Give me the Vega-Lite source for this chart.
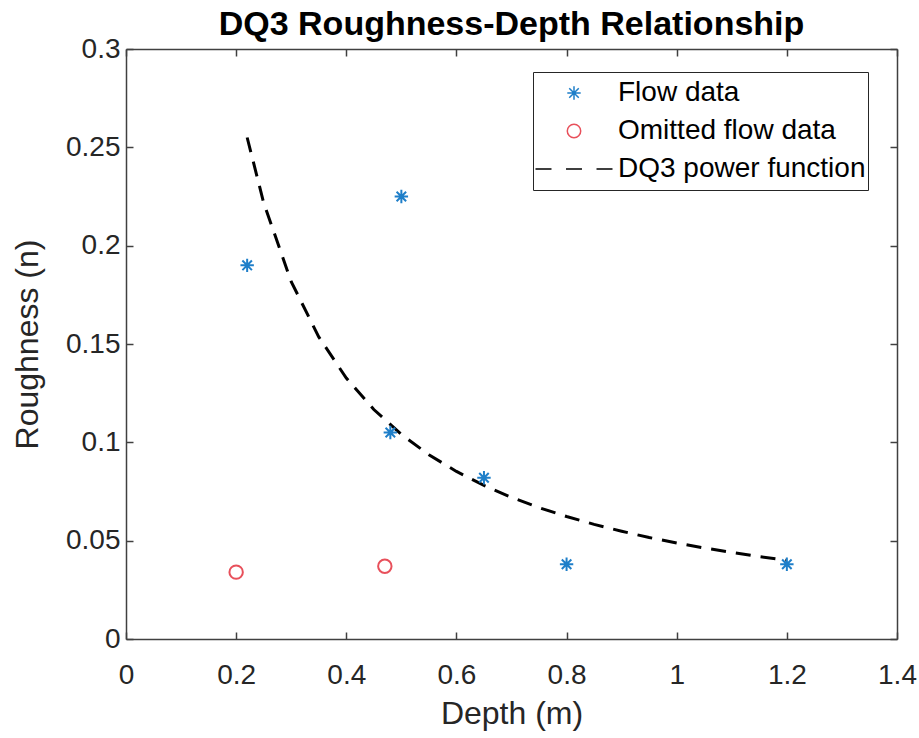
{
  "$schema": "https://vega.github.io/schema/vega-lite/v6.json",
  "autosize": "none",
  "width": 771,
  "height": 590,
  "padding": {"left": 126, "top": 49, "right": 22, "bottom": 99},
  "background": "white",
  "title": {
    "text": "DQ3 Roughness-Depth Relationship",
    "font": "Liberation Sans",
    "fontSize": 34,
    "fontWeight": "bold",
    "color": "#000000",
    "anchor": "middle",
    "offset": -7
  },
  "config": {
    "view": {"stroke": null},
    "axis": {
      "grid": false,
      "domainColor": "#404040",
      "domainWidth": 1.5,
      "tickColor": "#404040",
      "tickWidth": 1.5,
      "tickSize": -7,
      "labelFont": "Liberation Sans",
      "labelFontSize": 28,
      "labelColor": "#262626",
      "labelFlush": false,
      "titleFont": "Liberation Sans",
      "titleFontSize": 32,
      "titleFontWeight": "normal",
      "titleColor": "#262626"
    }
  },
  "datasets": {
    "fit": [
      {"depth": 0.22, "n": 0.2550},
      {"depth": 0.25, "n": 0.2218},
      {"depth": 0.30, "n": 0.1817},
      {"depth": 0.35, "n": 0.1536},
      {"depth": 0.40, "n": 0.1327},
      {"depth": 0.45, "n": 0.1167},
      {"depth": 0.50, "n": 0.1040},
      {"depth": 0.55, "n": 0.0937},
      {"depth": 0.60, "n": 0.0852},
      {"depth": 0.65, "n": 0.0781},
      {"depth": 0.70, "n": 0.0720},
      {"depth": 0.75, "n": 0.0668},
      {"depth": 0.80, "n": 0.0623},
      {"depth": 0.85, "n": 0.0583},
      {"depth": 0.90, "n": 0.0548},
      {"depth": 0.95, "n": 0.0516},
      {"depth": 1.00, "n": 0.0488},
      {"depth": 1.05, "n": 0.0463},
      {"depth": 1.10, "n": 0.0440},
      {"depth": 1.15, "n": 0.0419},
      {"depth": 1.20, "n": 0.0400}
    ],
    "points": [
      {"depth": 0.22, "n": 0.190, "series": "Flow data"},
      {"depth": 0.50, "n": 0.225, "series": "Flow data"},
      {"depth": 0.48, "n": 0.105, "series": "Flow data"},
      {"depth": 0.65, "n": 0.082, "series": "Flow data"},
      {"depth": 0.80, "n": 0.038, "series": "Flow data"},
      {"depth": 1.20, "n": 0.038, "series": "Flow data"},
      {"depth": 0.20, "n": 0.034, "series": "Omitted flow data"},
      {"depth": 0.47, "n": 0.037, "series": "Omitted flow data"}
    ]
  },
  "layer": [
    {
      "data": {"name": "fit"},
      "mark": {"type": "line", "color": "#000000", "strokeWidth": 3, "strokeDash": [15, 10], "interpolate": "linear"},
      "encoding": {
        "x": {
          "field": "depth", "type": "quantitative",
          "scale": {"domain": [0, 1.4], "nice": false, "zero": false},
          "axis": {"orient": "bottom", "title": "Depth (m)", "values": [0, 0.2, 0.4, 0.6, 0.8, 1, 1.2, 1.4], "format": "~g", "labelPadding": 29, "titlePadding": 9}
        },
        "y": {
          "field": "n", "type": "quantitative",
          "scale": {"domain": [0, 0.3], "nice": false, "zero": false},
          "axis": {"orient": "left", "title": "Roughness (n)", "values": [0, 0.05, 0.1, 0.15, 0.2, 0.25, 0.3], "format": "~g", "labelPadding": 13, "titlePadding": 21}
        }
      }
    },
    {
      "data": {"name": "points"},
      "mark": {"type": "point", "filled": false, "size": 180, "strokeWidth": 2, "opacity": 1},
      "encoding": {
        "x": {
          "field": "depth", "type": "quantitative",
          "axis": {"orient": "top", "title": null, "labels": false, "values": [0, 0.2, 0.4, 0.6, 0.8, 1, 1.2, 1.4]}
        },
        "y": {
          "field": "n", "type": "quantitative",
          "axis": {"orient": "right", "title": null, "labels": false, "values": [0, 0.05, 0.1, 0.15, 0.2, 0.25, 0.3]}
        },
        "color": {
          "field": "series", "type": "nominal",
          "scale": {"domain": ["Flow data", "Omitted flow data", "DQ3 power function"], "range": ["#1f7fc9", "#e8505b", "#000000"]},
          "legend": {
            "title": null,
            "orient": "none",
            "legendX": 407,
            "legendY": 23,
            "padding": 2,
            "fillColor": "#ffffff",
            "strokeColor": "#262626",
            "symbolSize": 180,
            "symbolOffset": 25,
            "labelOffset": 30,
            "labelLimit": 500,
            "clipHeight": 38,
            "rowPadding": 0,
            "labelFont": "Liberation Sans",
            "labelFontSize": 28,
            "labelColor": "#000000",
            "encode": {
              "symbols": {"update": {"strokeWidth": {"signal": "datum.value === 'DQ3 power function' ? 3 : 2"}}},
              "legend": {"update": {"strokeWidth": {"value": 1.5}}}
            }
          }
        },
        "shape": {
          "field": "series", "type": "nominal",
          "scale": {"domain": ["Flow data", "Omitted flow data", "DQ3 power function"], "range": ["M-1,0L1,0M0,-1L0,1M-0.71,-0.71L0.71,0.71M-0.71,0.71L0.71,-0.71", "circle", "M-5.74,0L-3.355,0M-1.19,0L1.19,0M3.355,0L5.74,0"]}
        }
      }
    }
  ]
}
